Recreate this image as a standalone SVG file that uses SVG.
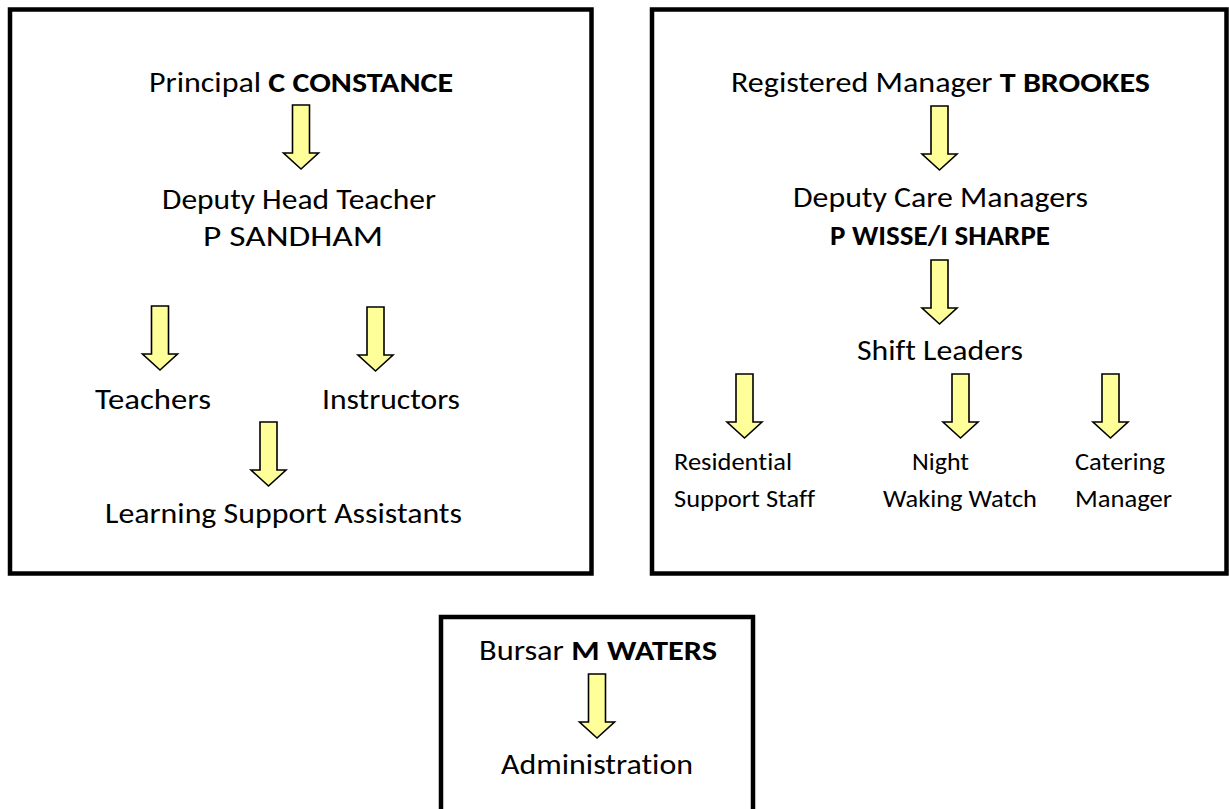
<svg xmlns="http://www.w3.org/2000/svg" xmlns:xlink="http://www.w3.org/1999/xlink" width="1229" height="809" viewBox="0 0 1229 809">
<style>
.box{fill:#fff;stroke:#000;stroke-width:4.5}
.t{font-family:Carlito,Calibri,Lato,"Open Sans",sans-serif;font-size:29px;fill:#000;font-variant-ligatures:none}
.s{font-family:Carlito,Calibri,Lato,"Open Sans",sans-serif;font-size:23.5px;fill:#000;font-variant-ligatures:none}
.b{font-weight:bold}
.arr{fill:#FFFF99;stroke:#000;stroke-width:1.6;stroke-linejoin:miter}
</style>
<defs>
<path id="dn" d="M-8.5,0 H8.5 V48 H17.5 L0,64 L-17.5,48 H-8.5 Z"/>
</defs>
<rect width="1229" height="809" fill="#fff"/>
<g id="education">
<rect class="box" x="10" y="9.5" width="581.5" height="564"/>
<text class="t" x="149" y="92" textLength="304" lengthAdjust="spacingAndGlyphs">Principal <tspan class="b">C CONSTANCE</tspan></text>
<text class="t" x="162" y="209" textLength="274" lengthAdjust="spacingAndGlyphs">Deputy Head Teacher</text>
<text class="t" x="203" y="246" textLength="180" lengthAdjust="spacingAndGlyphs">P SANDHAM</text>
<text class="t" x="95" y="409" textLength="116" lengthAdjust="spacingAndGlyphs">Teachers</text>
<text class="t" x="322" y="409" textLength="138" lengthAdjust="spacingAndGlyphs">Instructors</text>
<text class="t" x="105" y="523" textLength="357" lengthAdjust="spacingAndGlyphs">Learning Support Assistants</text>
</g>
<g id="care">
<rect class="box" x="652" y="9.5" width="574.5" height="564"/>
<text class="t" x="731" y="92" textLength="419" lengthAdjust="spacingAndGlyphs">Registered Manager <tspan class="b">T BROOKES</tspan></text>
<text class="t" x="793" y="207" textLength="295" lengthAdjust="spacingAndGlyphs">Deputy Care Managers</text>
<text class="t b" x="830" y="245" textLength="220" lengthAdjust="spacingAndGlyphs">P WISSE/I SHARPE</text>
<text class="t" x="857" y="360" textLength="166" lengthAdjust="spacingAndGlyphs">Shift Leaders</text>
<text class="s" x="674" y="470" textLength="118" lengthAdjust="spacingAndGlyphs">Residential</text>
<text class="s" x="674" y="507" textLength="141" lengthAdjust="spacingAndGlyphs">Support Staff</text>
<text class="s" x="912" y="470" textLength="57" lengthAdjust="spacingAndGlyphs">Night</text>
<text class="s" x="883" y="507" textLength="154" lengthAdjust="spacingAndGlyphs">Waking Watch</text>
<text class="s" x="1075" y="470" textLength="90" lengthAdjust="spacingAndGlyphs">Catering</text>
<text class="s" x="1075" y="507" textLength="97" lengthAdjust="spacingAndGlyphs">Manager</text>
</g>
<g id="bursar">
<rect class="box" x="441" y="617" width="312" height="200"/>
<text class="t" x="479" y="660" textLength="238" lengthAdjust="spacingAndGlyphs">Bursar <tspan class="b">M WATERS</tspan></text>
<text class="t" x="501" y="774" textLength="192" lengthAdjust="spacingAndGlyphs">Administration</text>
</g>
<g id="connectors">
<use href="#dn" class="arr" x="301" y="105"/>
<use href="#dn" class="arr" x="160" y="306"/>
<use href="#dn" class="arr" x="375.5" y="307"/>
<use href="#dn" class="arr" x="268.5" y="422"/>
<use href="#dn" class="arr" x="939.5" y="106"/>
<use href="#dn" class="arr" x="939.5" y="260"/>
<use href="#dn" class="arr" x="744.5" y="374"/>
<use href="#dn" class="arr" x="960.5" y="374"/>
<use href="#dn" class="arr" x="1110.5" y="374"/>
<use href="#dn" class="arr" x="597" y="674"/>
</g>
</svg>
